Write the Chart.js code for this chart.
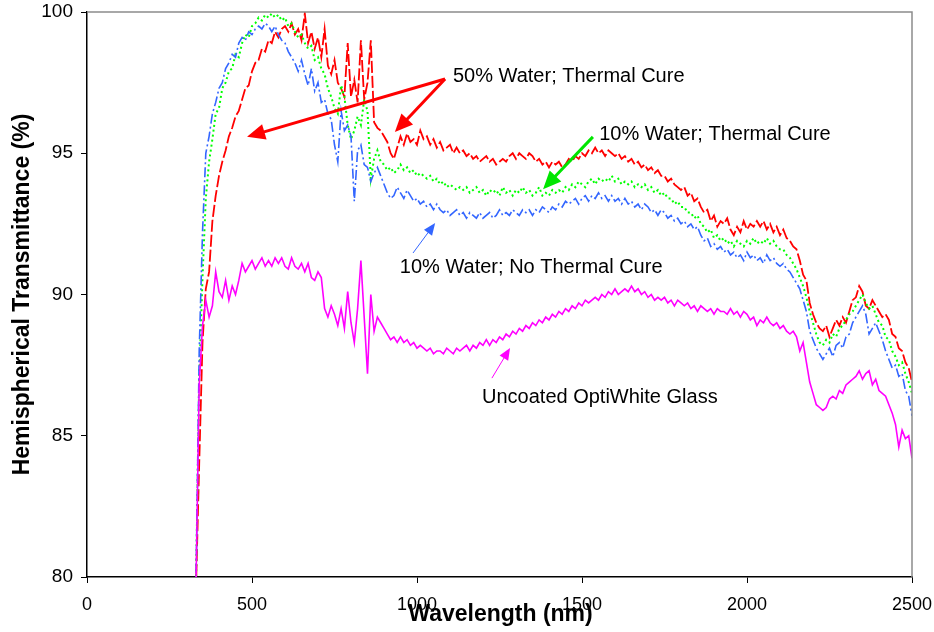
<!DOCTYPE html>
<html>
<head>
<meta charset="utf-8">
<script src="https://cdn.jsdelivr.net/npm/chart.js@4/dist/chart.umd.min.js"></script>
<style>
  html, body { margin: 0; padding: 0; background: #ffffff; }
  #wrap { width: 934px; height: 632px; }
</style>
</head>
<body>
<div id="wrap"><canvas id="spectra" width="934" height="632"></canvas></div>
<script>
// Wavelength grid (nm)
const wavelengths = [
  330, 340, 350, 360, 370, 380, 390, 400, 410, 420,
  430, 440, 450, 460, 470, 480, 490, 500, 510, 520,
  530, 540, 550, 560, 570, 580, 590, 600, 610, 620,
  630, 640, 650, 660, 670, 680, 690, 700, 710, 720,
  730, 740, 750, 760, 770, 780, 790, 800, 810, 820,
  830, 840, 850, 860, 870, 880, 890, 900, 910, 920,
  930, 940, 950, 960, 970, 980, 990, 1000, 1010, 1020,
  1030, 1040, 1050, 1060, 1070, 1080, 1090, 1100, 1110, 1120,
  1130, 1140, 1150, 1160, 1170, 1180, 1190, 1200, 1210, 1220,
  1230, 1240, 1250, 1260, 1270, 1280, 1290, 1300, 1310, 1320,
  1330, 1340, 1350, 1360, 1370, 1380, 1390, 1400, 1410, 1420,
  1430, 1440, 1450, 1460, 1470, 1480, 1490, 1500, 1510, 1520,
  1530, 1540, 1550, 1560, 1570, 1580, 1590, 1600, 1610, 1620,
  1630, 1640, 1650, 1660, 1670, 1680, 1690, 1700, 1710, 1720,
  1730, 1740, 1750, 1760, 1770, 1780, 1790, 1800, 1810, 1820,
  1830, 1840, 1850, 1860, 1870, 1880, 1890, 1900, 1910, 1920,
  1930, 1940, 1950, 1960, 1970, 1980, 1990, 2000, 2010, 2020,
  2030, 2040, 2050, 2060, 2070, 2080, 2090, 2100, 2110, 2120,
  2130, 2140, 2150, 2160, 2170, 2180, 2190, 2200, 2210, 2220,
  2230, 2240, 2250, 2260, 2270, 2280, 2290, 2300, 2310, 2320,
  2330, 2340, 2350, 2360, 2370, 2380, 2390, 2400, 2410, 2420,
  2430, 2440, 2450, 2460, 2470, 2480, 2490, 2500
];

// Hemispherical transmittance (%), 50% water sol-gel coating, thermally cured
const water50Cured = [
  79.5, 84.0, 88.3, 90.2, 90.8, 92.6, 93.5, 94.2, 94.7, 95.1,
  95.6, 95.9, 96.3, 96.5, 96.9, 97.3, 97.4, 97.9, 98.2, 98.3,
  98.7, 98.6, 99.0, 98.9, 99.3, 99.1, 99.4, 99.5, 99.3, 99.6,
  99.2, 99.4, 99.0, 99.95, 98.9, 99.3, 98.7, 99.1, 98.4, 99.4,
  98.1, 97.8, 98.3, 97.5, 97.3, 97.0, 98.9, 97.0, 97.6, 96.8,
  99.0, 96.9, 97.5, 99.0, 96.1, 95.9, 95.8, 95.6, 95.4, 95.0,
  94.8, 95.2, 95.6, 95.3, 95.7, 95.4, 95.5, 95.3, 95.8, 95.5,
  95.6, 95.3, 95.5, 95.2, 95.4, 95.1, 95.2, 95.3, 95.0, 95.2,
  95.0, 95.1, 94.9, 95.0, 94.8, 94.9, 94.7, 94.8, 94.9, 94.7,
  94.8, 94.6, 94.7, 94.8, 94.7, 94.9, 95.0, 94.8, 95.0, 94.9,
  94.8, 95.0, 94.9, 94.7, 94.8, 94.6, 94.7, 94.5, 94.7, 94.6,
  94.7, 94.5, 94.6, 94.8, 94.7, 94.9, 94.8, 95.0, 94.9, 95.1,
  95.0, 95.2, 95.0, 95.1, 94.9, 95.1, 95.0, 94.9, 95.0, 94.8,
  94.9, 94.7, 94.8, 94.6, 94.7, 94.5, 94.6, 94.4, 94.5, 94.3,
  94.4, 94.2, 94.2, 94.0, 94.1, 93.9, 93.8, 93.7, 93.8, 93.5,
  93.6, 93.3, 93.4, 93.1, 92.9, 93.0, 92.6, 92.8, 92.4, 92.6,
  92.5, 92.7, 92.3, 92.1, 92.4, 92.2, 92.6, 92.3, 92.5, 92.4,
  92.6, 92.4, 92.6, 92.3, 92.5, 92.2, 92.4, 92.1, 92.3, 92.0,
  91.9, 91.7, 91.6, 91.2, 90.7, 90.5, 89.7, 89.3, 89.0, 88.8,
  88.7, 88.9, 88.5, 88.8, 89.1, 88.9, 89.2, 89.0, 89.4, 89.8,
  89.9, 90.3, 90.1, 89.6, 89.5, 89.8, 89.6, 89.4, 89.2, 89.3,
  89.1, 88.6, 88.5, 88.1, 88.0, 87.6, 87.4, 86.9
];

// 10% water coating, thermally cured
const water10Cured = [
  79.5, 87.0, 90.6, 93.4, 94.7, 95.5, 96.4, 96.6, 97.3, 97.5,
  97.9, 98.0, 98.5, 98.4, 98.9, 99.2, 99.1, 99.5, 99.6, 99.8,
  99.7, 99.9, 99.8, 99.95, 99.8, 99.9, 99.7, 99.8, 99.5, 99.6,
  99.3, 99.1, 99.2, 98.9, 98.7, 98.8, 98.3, 98.4, 98.0, 97.8,
  97.3, 97.0, 96.6, 96.4, 97.4, 97.0, 96.0, 95.5, 95.8, 96.3,
  96.0, 96.9, 96.5, 94.1, 94.8, 95.1, 94.7, 94.6, 94.4, 94.5,
  94.3, 94.4, 94.6, 94.4, 94.5, 94.3, 94.4, 94.2, 94.3, 94.2,
  94.1, 94.2, 94.0, 94.1, 93.9, 94.0, 93.8, 93.9, 93.8, 93.7,
  93.8, 93.7, 93.8, 93.6, 93.7, 93.8, 93.6, 93.7, 93.5, 93.7,
  93.6, 93.7, 93.5, 93.8, 93.6, 93.7, 93.5, 93.7, 93.6, 93.8,
  93.6, 93.7, 93.5, 93.6, 93.8, 93.5, 93.6, 93.5, 93.7, 93.6,
  93.7, 93.6, 93.8, 93.7, 93.9, 93.8, 94.0, 93.9, 93.8, 94.0,
  94.1, 93.9, 94.1, 94.0, 94.1, 94.0, 94.2, 94.0, 94.1, 93.9,
  94.0, 93.9, 94.0, 93.8, 93.9, 93.8, 93.9, 93.7, 93.8, 93.6,
  93.7, 93.5, 93.6, 93.4, 93.4, 93.2, 93.3, 93.1, 93.1, 92.9,
  92.9, 92.7, 92.8, 92.5, 92.4, 92.2, 92.3, 92.0, 92.1, 91.9,
  92.0, 91.8, 91.9, 91.7, 91.9, 91.8, 91.7, 91.9, 91.8, 92.0,
  91.8, 91.9, 91.8, 92.0, 91.8, 91.9, 91.7, 91.6, 91.6, 91.4,
  91.3, 91.1, 90.9, 90.6, 90.3, 89.9, 89.4, 89.0, 88.6, 88.3,
  88.2, 88.4, 88.3, 88.6, 88.5, 88.8, 88.9, 89.1, 89.3, 89.4,
  89.6, 89.8, 90.0, 89.7, 89.5, 89.6, 89.3, 89.0, 88.9, 88.5,
  88.4, 88.0, 87.8, 87.5, 87.6, 87.2, 86.9, 86.5
];

// 10% water coating, no thermal cure
const water10Uncured = [
  79.5, 88.0, 92.2, 95.0, 95.6, 96.4, 96.8, 97.3, 97.5, 98.0,
  98.2, 98.5, 98.4, 98.9, 99.1, 99.0, 99.3, 99.2, 99.4, 99.5,
  99.4, 99.6, 99.5, 99.3, 99.5, 99.2, 99.0, 98.9, 98.6, 98.4,
  98.2, 97.9, 98.3, 97.8, 97.4, 98.0, 97.2, 97.5, 96.8, 96.9,
  96.4, 96.2, 95.3, 94.7, 96.5, 95.8, 96.0, 95.6, 93.3, 95.1,
  95.3, 94.6, 94.5, 94.0, 94.3, 94.5, 94.2, 93.9, 93.6, 93.4,
  93.5, 93.8, 93.6, 93.4, 93.7, 93.5, 93.3, 93.4, 93.2, 93.3,
  93.1, 93.2, 93.0, 93.2, 93.0, 92.9, 93.0, 92.8, 92.9, 93.0,
  92.8, 92.9, 92.7, 92.9, 92.8, 92.7, 92.9, 92.7, 92.8, 92.9,
  92.7, 92.8, 93.0, 92.8, 92.9, 92.8, 93.0, 92.9, 92.8, 93.0,
  92.9, 93.0, 92.8, 93.0, 92.9, 93.1, 93.0, 92.9, 93.1, 93.0,
  93.2, 93.1, 93.3, 93.2, 93.3, 93.4, 93.2, 93.4, 93.5, 93.3,
  93.5, 93.4, 93.6, 93.4, 93.5, 93.3, 93.5, 93.3, 93.4, 93.2,
  93.4, 93.2, 93.3, 93.1, 93.2, 93.0, 93.2, 93.1, 92.9, 93.0,
  92.8, 93.0, 92.9, 92.7, 92.8, 92.6, 92.7, 92.5, 92.6, 92.4,
  92.5, 92.3, 92.4, 92.1, 91.9, 92.0, 91.7, 91.8, 91.6, 91.7,
  91.5, 91.6, 91.4, 91.5, 91.3, 91.4, 91.2, 91.5, 91.3, 91.4,
  91.2, 91.3, 91.1, 91.4, 91.2, 91.3, 91.1, 91.0, 91.1, 90.9,
  90.8, 90.6, 90.4, 90.2, 89.8, 89.4, 88.7, 88.4, 88.1, 87.9,
  87.7, 87.9, 88.1, 87.8, 88.2, 88.3, 88.1, 88.5, 88.6, 89.0,
  89.2, 89.4, 89.6, 89.3, 88.6, 88.8, 89.0, 88.7, 88.4, 88.0,
  87.7, 87.4, 87.5, 87.1, 87.2, 86.6, 86.4, 85.7
];

// Bare OptiWhite glass substrate
const uncoatedGlass = [
  79.5, 86.8, 88.9, 89.8, 89.2, 89.6, 90.8, 90.1, 89.9, 90.5,
  89.8, 90.3, 90.0, 90.5, 91.1, 90.8, 91.0, 91.2, 90.9, 91.1,
  91.3, 91.0, 91.2, 91.0, 91.3, 91.1, 91.3, 91.0, 90.9, 91.3,
  91.0, 90.9, 91.1, 90.8, 91.1, 90.6, 90.5, 90.8, 90.6, 89.5,
  89.2, 89.6, 89.3, 88.9, 89.5, 88.8, 90.1, 89.0, 88.3, 89.5,
  91.2, 89.2, 87.2, 90.0, 88.7, 89.2, 89.0, 88.8, 88.6, 88.4,
  88.5, 88.3, 88.5, 88.3, 88.4, 88.2, 88.3, 88.1, 88.2, 88.1,
  88.0, 88.1, 87.9, 88.0, 88.0, 87.9, 88.1, 88.0, 87.9, 88.1,
  88.0, 88.1, 88.2, 88.0, 88.2, 88.1, 88.3, 88.2, 88.4, 88.2,
  88.4, 88.3, 88.5, 88.4, 88.6, 88.5, 88.7, 88.6, 88.8, 88.7,
  88.9, 88.8, 89.0, 88.9, 89.1, 89.0, 89.2, 89.1, 89.3, 89.2,
  89.4, 89.3, 89.5, 89.4, 89.6, 89.5, 89.7, 89.6, 89.8, 89.7,
  89.8, 89.9, 89.8, 90.0, 89.9, 90.1, 90.0, 90.2, 90.0, 90.1,
  90.2, 90.1, 90.3, 90.1, 90.2, 90.0, 90.1, 89.9, 90.0, 89.8,
  89.9, 89.8, 89.9, 89.7, 89.8, 89.6, 89.8, 89.7, 89.6, 89.7,
  89.5, 89.6, 89.4, 89.6, 89.5, 89.4, 89.5, 89.3, 89.5, 89.4,
  89.4, 89.3, 89.5, 89.3, 89.4, 89.2, 89.4, 89.3, 89.1, 89.2,
  88.9, 89.1, 89.0, 89.2, 89.0, 88.9, 89.0, 88.8, 88.9, 88.7,
  88.6, 88.7, 88.5, 88.0, 88.3, 87.6, 86.9, 86.5, 86.1, 86.0,
  85.9, 86.0, 86.3, 86.4, 86.3, 86.6, 86.5, 86.8, 86.9, 87.0,
  87.1, 87.3, 87.0, 87.2, 87.3, 86.8, 87.0, 86.6, 86.5, 86.4,
  86.1, 85.8, 85.4, 84.6, 85.2, 84.9, 85.0, 84.2
];

// Axis tick values
const xTicks = [0, 500, 1000, 1500, 2000, 2500];
const yTicks = [80, 85, 90, 95, 100];

// Callout labels: text anchor and arrows, in data units (nm, %)
const callouts = [
  { text: '50% Water; Thermal Cure', at: [1109, 97.73], color: '#FF0000', lineWidth: 3, head: [18, 8],
    arrows: [[1085, 97.63, 485, 95.58], [1085, 97.63, 933, 95.75]] },
  { text: '10% Water; Thermal Cure', at: [1552, 95.65], color: '#00E600', lineWidth: 3, head: [18, 8],
    arrows: [[1533, 95.58, 1382, 93.73]] },
  { text: '10% Water; No Thermal Cure', at: [948, 90.97], color: '#3366FF', lineWidth: 1, head: [12, 5],
    arrows: [[988, 91.47, 1055, 92.53]] },
  { text: 'Uncoated OptiWhite Glass', at: [1197, 86.37], color: '#FF00FF', lineWidth: 1, head: [12, 5],
    arrows: [[1227, 87.04, 1282, 88.11]] }
];

const FONT = "'Liberation Sans', Arial, Helvetica, sans-serif";
Chart.defaults.font.family = FONT;
Chart.defaults.color = '#000000';

function toPoints(values) {
  return wavelengths.map((x, i) => ({ x: x, y: values[i] }));
}

function drawArrow(ctx, x1, y1, x2, y2, color, lw, headLen, headHalf) {
  const ang = Math.atan2(y2 - y1, x2 - x1);
  const c = Math.cos(ang), s = Math.sin(ang);
  const bx = x2 - headLen * c, by = y2 - headLen * s;
  ctx.save();
  ctx.strokeStyle = color;
  ctx.fillStyle = color;
  ctx.lineWidth = lw;
  ctx.beginPath();
  ctx.moveTo(x1, y1);
  ctx.lineTo(bx + 2 * c, by + 2 * s);
  ctx.stroke();
  ctx.beginPath();
  ctx.moveTo(x2, y2);
  ctx.lineTo(bx - headHalf * s, by + headHalf * c);
  ctx.lineTo(bx + headHalf * s, by - headHalf * c);
  ctx.closePath();
  ctx.fill();
  ctx.restore();
}

const decorations = {
  id: 'decorations',
  afterDatasetsDraw(chart) {
    const { ctx, chartArea, scales } = chart;
    const xs = scales.x, ys = scales.y;
    // grey top and right frame
    ctx.save();
    ctx.strokeStyle = '#8c8c8c';
    ctx.lineWidth = 1.5;
    ctx.beginPath();
    ctx.moveTo(chartArea.left, chartArea.top);
    ctx.lineTo(chartArea.right, chartArea.top);
    ctx.lineTo(chartArea.right, chartArea.bottom);
    ctx.stroke();
    ctx.restore();

    // callouts
    callouts.forEach(c => {
      c.arrows.forEach(a => {
        drawArrow(ctx,
          xs.getPixelForValue(a[0]), ys.getPixelForValue(a[1]),
          xs.getPixelForValue(a[2]), ys.getPixelForValue(a[3]),
          c.color, c.lineWidth, c.head[0], c.head[1]);
      });
      ctx.save();
      ctx.fillStyle = '#000000';
      ctx.font = '20px ' + FONT;
      ctx.textAlign = 'left';
      ctx.textBaseline = 'middle';
      ctx.fillText(c.text, xs.getPixelForValue(c.at[0]), ys.getPixelForValue(c.at[1]));
      ctx.restore();
    });
  },
  afterDraw(chart) {
    const { ctx, chartArea } = chart;
    ctx.save();
    ctx.fillStyle = '#000000';
    ctx.font = 'bold 23px ' + FONT;
    ctx.textAlign = 'center';
    ctx.textBaseline = 'middle';
    ctx.fillText('Wavelength (nm)', (chartArea.left + chartArea.right) / 2 + 1, chartArea.bottom + 38);
    ctx.translate(23, (chartArea.top + chartArea.bottom) / 2);
    ctx.rotate(-Math.PI / 2);
    ctx.fillText('Hemispherical Transmittance (%)', 0, 0);
    ctx.restore();
  }
};

const lineStyle = { pointRadius: 0, pointHoverRadius: 0, tension: 0, fill: false };

new Chart(document.getElementById('spectra').getContext('2d'), {
  type: 'line',
  data: {
    datasets: [
      Object.assign({ label: '10% Water; No Thermal Cure', data: toPoints(water10Uncured),
        borderColor: '#3366FF', borderWidth: 1.6, borderDash: [10, 3, 2, 3], order: 2 }, lineStyle),
      Object.assign({ label: '10% Water; Thermal Cure', data: toPoints(water10Cured),
        borderColor: '#00FF00', borderWidth: 2, borderDash: [2, 3], order: 3 }, lineStyle),
      Object.assign({ label: '50% Water; Thermal Cure', data: toPoints(water50Cured),
        borderColor: '#FF0000', borderWidth: 1.8, borderDash: [12, 3], order: 4 }, lineStyle),
      Object.assign({ label: 'Uncoated OptiWhite Glass', data: toPoints(uncoatedGlass),
        borderColor: '#FF00FF', borderWidth: 1.6, order: 1 }, lineStyle)
    ]
  },
  options: {
    responsive: false,
    animation: false,
    events: [],
    layout: { padding: { left: 0, right: 22, top: 12, bottom: 0 } },
    plugins: { legend: { display: false }, tooltip: { enabled: false } },
    scales: {
      x: {
        type: 'linear', min: 0, max: 2500,
        afterBuildTicks(scale) { scale.ticks = xTicks.map(v => ({ value: v })); },
        afterFit(scale) { scale.height = 55; scale.paddingLeft = 0; scale.paddingRight = 0; },
        ticks: { font: { size: 18 }, color: '#000000', padding: 11, maxRotation: 0, autoSkip: false,
                 callback: v => String(v) },
        grid: { drawOnChartArea: false, drawTicks: true, tickLength: 6, color: '#000000', lineWidth: 1 },
        border: { display: true, color: '#000000', width: 1.5 }
      },
      y: {
        type: 'linear', min: 80, max: 100,
        afterBuildTicks(scale) { scale.ticks = yTicks.map(v => ({ value: v })); },
        afterFit(scale) { scale.width = 87; scale.paddingTop = 0; scale.paddingBottom = 0; },
        ticks: { font: { size: 19 }, color: '#000000', padding: 8, autoSkip: false,
                 callback: v => String(v) },
        grid: { drawOnChartArea: false, drawTicks: true, tickLength: 6, color: '#000000', lineWidth: 1 },
        border: { display: true, color: '#000000', width: 1.5 }
      }
    }
  },
  plugins: [decorations]
});
</script>
</body>
</html>
